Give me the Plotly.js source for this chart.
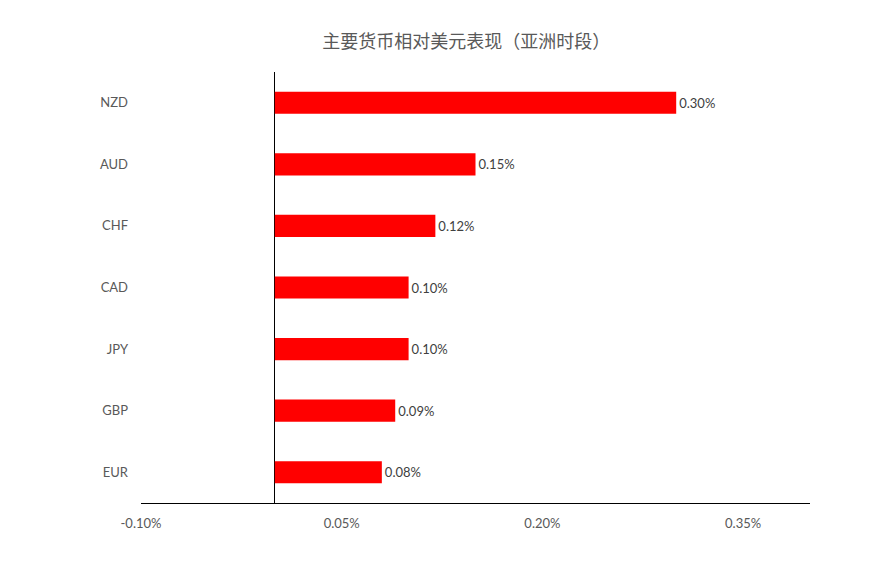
<!DOCTYPE html>
<html>
<head>
<meta charset="utf-8">
<script src="https://cdn.plot.ly/plotly-3.0.1.min.js"></script>
<style>html,body{margin:0;padding:0;background:#fff;}#chart{width:878px;height:568px;}</style>
</head>
<body>
<div id="chart"></div>
<script>
const currencies = ["EUR", "GBP", "JPY", "CAD", "CHF", "AUD", "NZD"];
const values = [0.08, 0.09, 0.10, 0.10, 0.12, 0.15, 0.30];
const xTickVals = [-0.10, 0.05, 0.20, 0.35];
const xTickText = ["-0.10%", "0.05%", "0.20%", "0.35%"];
const chartTitle = "主要货币相对美元表现（亚洲时段）";

const trace = {
  type: "bar",
  orientation: "h",
  y: currencies,
  x: values,
  marker: {color: "#FF0000"},
  width: 0.36,
  text: values.map(v => v.toFixed(2) + "%"),
  textposition: "outside",
  cliponaxis: false,
  textfont: {family: "Lato, 'Open Sans', sans-serif", size: 13, color: "#404040"},
  hoverinfo: "none"
};

const layout = {
  width: 878,
  height: 568,
  margin: {l: 141, r: 68, t: 72, b: 65},
  paper_bgcolor: "#fff",
  plot_bgcolor: "#fff",
  showlegend: false,
  title: {
    text: chartTitle,
    font: {family: "'Noto Sans CJK SC', sans-serif", size: 18, color: "#595959"},
    xref: "container", x: 0.531, xanchor: "center",
    yref: "container", y: 0.926, yanchor: "middle"
  },
  xaxis: {
    range: [-0.10, 0.40],
    tickvals: xTickVals,
    ticktext: xTickText,
    showgrid: false,
    zeroline: true,
    zerolinecolor: "#000",
    zerolinewidth: 1,
    showline: true,
    linecolor: "#000",
    linewidth: 1,
    ticks: "",
    ticklabelstandoff: 8,
    tickfont: {family: "Lato, 'Open Sans', sans-serif", size: 13, color: "#595959"},
    fixedrange: true
  },
  yaxis: {
    type: "category",
    categoryorder: "array",
    categoryarray: currencies,
    showgrid: false,
    zeroline: false,
    showline: false,
    ticks: "",
    ticklabelstandoff: 12,
    tickfont: {family: "Lato, 'Open Sans', sans-serif", size: 13, color: "#595959"},
    fixedrange: true
  },
  bargap: 0.64
};

Plotly.newPlot("chart", [trace], layout, {displayModeBar: false, staticPlot: true});
</script>
</body>
</html>
